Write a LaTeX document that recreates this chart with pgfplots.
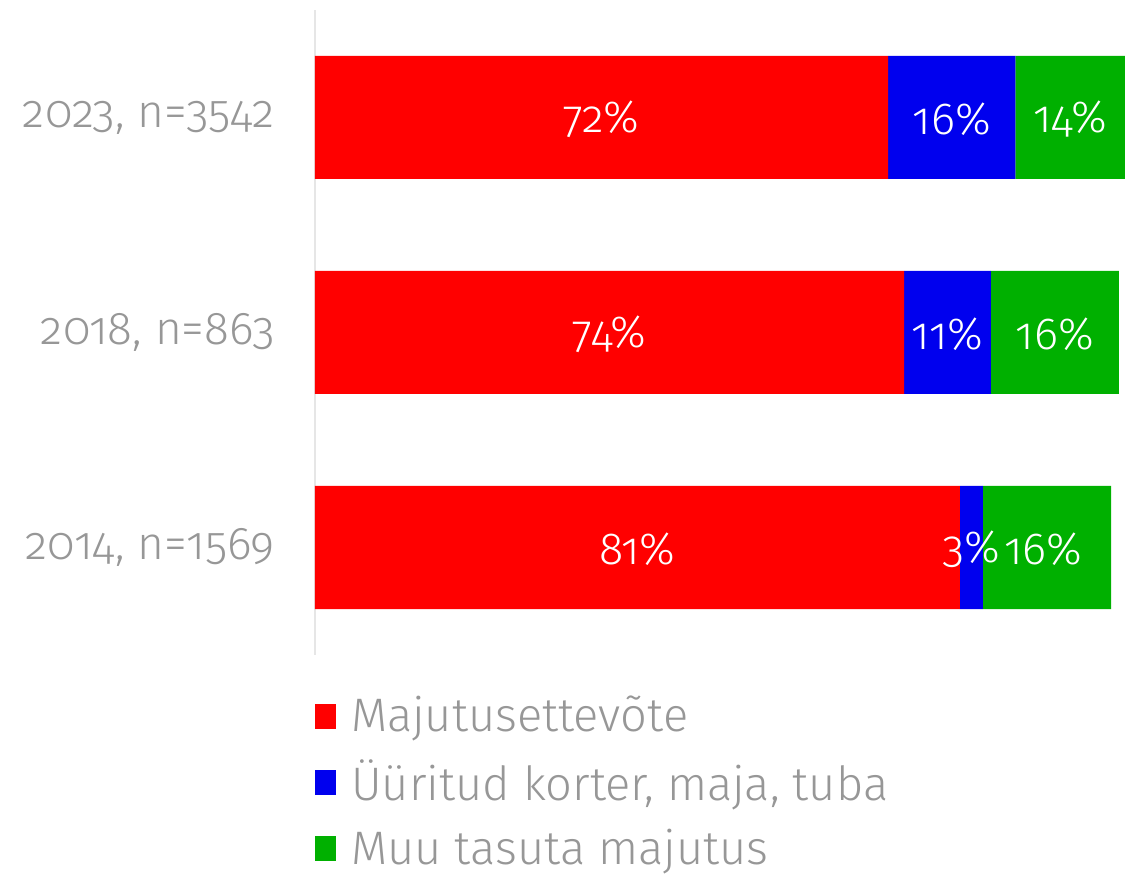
\documentclass[border=0pt]{standalone}
\usepackage{fontspec}
\setmainfont{Fira Sans}[UprightFont=* Light, Numbers=OldStyle]
\usepackage{pgfplots}
\pgfplotsset{compat=1.18}
\definecolor{cR}{HTML}{FF0000}
\definecolor{cB}{HTML}{0000EE}
\definecolor{cG}{HTML}{00B000}
\definecolor{cTxt}{HTML}{979797}
\definecolor{cAx}{HTML}{E6E6E6}
\begin{document}
\begin{tikzpicture}
\path[use as bounding box] (-315pt,-223pt) rectangle (810pt,655pt);
\begin{axis}[
  xbar stacked,
  scale only axis, width=796pt, height=645pt,
  xmin=0, xmax=100, ymin=-0.5, ymax=2.5,
  bar width=123pt, clip=false,
  axis x line=none,
  axis y line*=left,
  y axis line style={draw=cAx, line width=2pt},
  ytick={0,1,2},
  yticklabels={{2014, n=1569},{2018, n=863},{2023, n=3542}},
  major tick length=0pt,
  yticklabel style={font=\fontsize{46}{55}\selectfont, text=cTxt, inner sep=0pt, xshift=-40pt},
  legend cell align=left,
  legend image code/.code={\fill[#1] (0pt,-14pt) rectangle (21pt,11pt);},
  legend style={at={(0,0)}, anchor=north west, yshift=-41pt, draw=none, fill=none,
    font=\fontsize{47}{56}\selectfont, text=cTxt, row sep=26.5pt, inner sep=0pt,
    nodes={inner xsep=15pt, inner ysep=0pt}},
]
\addplot[fill=cR, draw=none] coordinates {(72.0,2) (74.0,1) (81.0,0)};
\addplot[fill=cB, draw=none] coordinates {(16.0,2) (10.9,1) (2.9,0)};
\addplot[fill=cG, draw=none] coordinates {(13.8,2) (16.1,1) (16.1,0)};
\legend{Majutusettevõte, {Üüritud korter, maja, tuba}, Muu tasuta majutus}
\end{axis}
\begin{axis}[
  scale only axis, width=796pt, height=645pt,
  xmin=0, xmax=100, ymin=-0.5, ymax=2.5,
  hide axis, clip=false,
]
\addplot[draw=none, mark=none, nodes near coords, point meta=explicit symbolic,
  every node near coord/.style={anchor=center, text=white, font=\fontsize{45}{54}\selectfont, inner sep=0pt, yshift=-2pt}]
  coordinates {(36.0,2) [72\%] (80.0,2) [16\%] (94.9,2) [14\%]
               (37.0,1) [74\%] (79.45,1) [11\%] (92.95,1) [16\%]
               (40.5,0) [81\%] (82.45,0) [3\%] (91.5,0) [16\%]};
\end{axis}
\end{tikzpicture}
\end{document}
